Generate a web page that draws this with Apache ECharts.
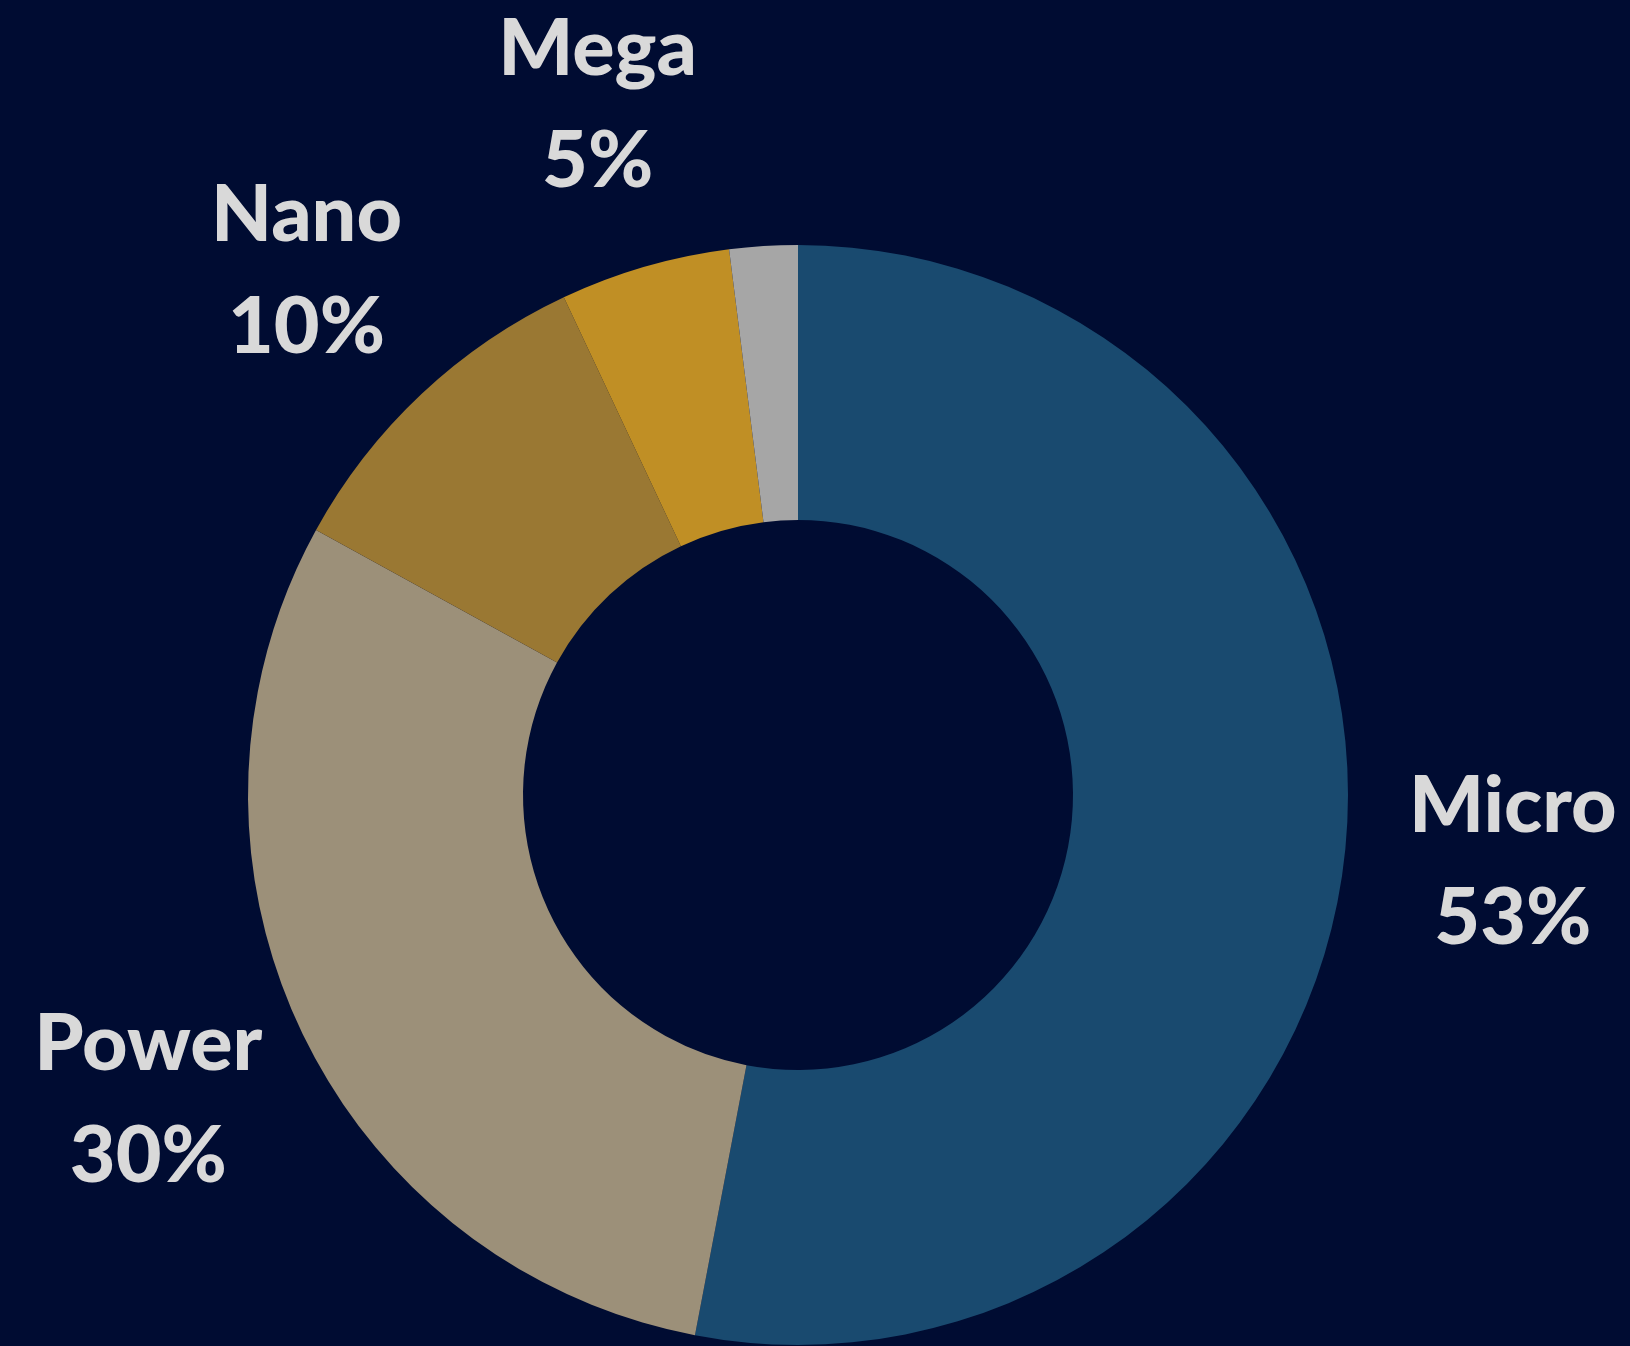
<!DOCTYPE html>
<html>
<head>
<meta charset="utf-8">
<style>
  html, body { margin: 0; padding: 0; background: #000c32; }
  #chart { width: 1630px; height: 1346px; }
</style>
<script src="https://cdn.jsdelivr.net/npm/echarts@6/dist/echarts.min.js"></script>
</head>
<body>
<div id="chart"></div>
<script>
// 各类别占比
const categories = ['Micro', 'Power', 'Nano', 'Mega', 'Other'];
const shares = [53, 30, 10, 5, 2];
const sliceColors = ['#194a6f', '#9c9079', '#9a7833', '#c08f25', '#a6a6a6'];
const labelled = [true, true, true, true, false];

const chart = echarts.init(document.getElementById('chart'));

const pieData = categories.map((name, i) => ({
  name: name,
  value: shares[i],
  itemStyle: { color: sliceColors[i] },
  label: { show: labelled[i] }
}));

chart.setOption({
  backgroundColor: '#000c32',
  animation: false,
  series: [{
    type: 'pie',
    center: [798, 795],
    radius: [275, 550],
    startAngle: 90,
    clockwise: true,
    avoidLabelOverlap: false,
    silent: true,
    data: pieData,
    label: {
      position: 'outside',
      formatter: '{b}\n{c}%',
      color: '#d9d9d9',
      fontFamily: 'Lato',
      fontWeight: 900,
      fontSize: 79,
      lineHeight: 112,
      width: 320,
      distanceToLabelLine: 0
    },
    labelLine: { show: false, length: 168, length2: 0 },
    // 把标签以锚点为中心摆放
    labelLayout: function (params) {
      const r = params.labelRect;
      const anchorX = params.align === 'right' ? r.x + r.width : r.x;
      return { x: anchorX, align: 'center' };
    }
  }]
});
</script>
</body>
</html>
